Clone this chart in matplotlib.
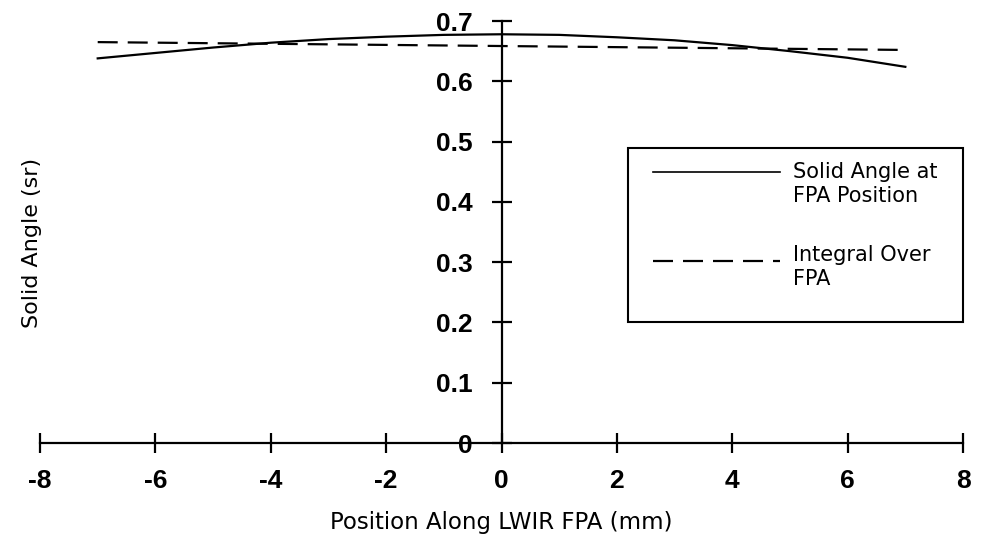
import matplotlib.pyplot as plt
from matplotlib.patches import Rectangle
from matplotlib.lines import Line2D

# position along the FPA (mm) and solid angle (sr)
pos = [-7, -6, -5, -4, -3, -2, -1, 0, 1, 2, 3, 4, 5, 6, 7]
omega = [0.638, 0.647, 0.656, 0.664, 0.670, 0.674, 0.677, 0.678,
         0.677, 0.673, 0.668, 0.660, 0.650, 0.639, 0.624]
pos_int = [-7, 7]
omega_int = [0.665, 0.652]

xticks = [-8, -6, -4, -2, 0, 2, 4, 6, 8]
yticks = [0, 0.1, 0.2, 0.3, 0.4, 0.5, 0.6, 0.7]
ytick_labels = ["0", "0.1", "0.2", "0.3", "0.4", "0.5", "0.6", "0.7"]
legend_labels = [["Solid Angle at", "FPA Position"], ["Integral Over", "FPA"]]

num_font = {"family": ["Liberation Sans Narrow", "Liberation Sans"],
            "weight": "bold", "size": 19}
dash = (0, (9, 4.5))

fig = plt.figure(figsize=(9.93, 5.47), dpi=100)
ax = fig.add_axes([0.0403, 0.1901, 0.9295, 0.7715])

ax.plot(pos, omega, color="black", lw=1.6)
ax.plot(pos_int, omega_int, color="black", lw=1.6, ls=dash)

ax.set_xlim(-8, 8)
ax.set_ylim(0, 0.7)
ax.spines["left"].set_position(("data", 0))
ax.spines["bottom"].set_position(("data", 0))
ax.spines["right"].set_visible(False)
ax.spines["top"].set_visible(False)
for s in ["left", "bottom"]:
    ax.spines[s].set_linewidth(1.6)
ax.set_xticks(xticks)
ax.set_yticks(yticks)
ax.set_xticklabels([str(t) for t in xticks], fontdict=num_font)
ax.set_yticklabels(ytick_labels, fontdict=num_font)
ax.tick_params(direction="inout", length=14, width=1.6)
ax.tick_params(axis="x", pad=12)
ax.tick_params(axis="y", pad=14)

fig.text(0.032, 0.555, "Solid Angle (sr)", rotation=90, ha="center", va="center",
         fontsize=16)
fig.text(0.505, 0.045, "Position Along LWIR FPA (mm)", ha="center", va="center",
         fontsize=16.5)

# legend box drawn by hand so the handles sit on the first text line
ax.add_patch(Rectangle((0.637, 0.287), 0.363, 0.412, transform=ax.transAxes,
                       fill=False, lw=1.5, ec="black", clip_on=False))
ax.add_line(Line2D([0.664, 0.802], [0.642, 0.642], transform=ax.transAxes,
                   color="black", lw=1.2))
ax.add_line(Line2D([0.664, 0.802], [0.432, 0.432], transform=ax.transAxes,
                   color="black", lw=1.6, ls=dash))
entry_y = [0.642, 0.445]
line_step = 0.057
for lines, y0 in zip(legend_labels, entry_y):
    for i, line in enumerate(lines):
        ax.text(0.816, y0 - i * line_step, line, transform=ax.transAxes,
                va="center", fontsize=15)

fig.savefig("out.png")
